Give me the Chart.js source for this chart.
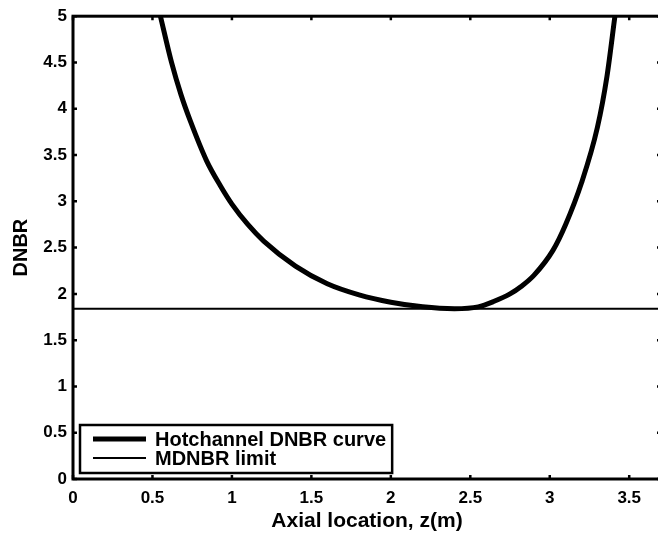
<!DOCTYPE html>
<html>
<head>
<meta charset="utf-8">
<script src="https://cdn.jsdelivr.net/npm/chart.js@4/dist/chart.umd.min.js"></script>
<style>
  html, body { margin: 0; padding: 0; background: #fff; overflow: hidden; }
  #wrap { width: 662px; height: 540px; }
</style>
</head>
<body>
<div id="wrap"><canvas id="chart" width="662" height="540"></canvas></div>
<script>
// values
const axialZ = [0.55, 0.62, 0.68, 0.74, 0.84, 0.93, 1.0, 1.1, 1.2, 1.4, 1.6, 1.8, 2.0, 2.2, 2.4, 2.55, 2.65, 2.75, 2.82, 2.9, 3.02, 3.1, 3.2, 3.3, 3.36, 3.41];
const dnbrHot = [5.0, 4.5, 4.15, 3.86, 3.44, 3.16, 2.97, 2.75, 2.57, 2.3, 2.11, 1.99, 1.91, 1.86, 1.84, 1.86, 1.92, 2.0, 2.08, 2.2, 2.47, 2.75, 3.2, 3.8, 4.35, 5.0];
const mdnbrZ = [0, 3.7];
const mdnbrLimit = [1.84, 1.84];
const seriesLabels = ['Hotchannel DNBR curve', 'MDNBR limit'];
const xTicks = [0, 0.5, 1, 1.5, 2, 2.5, 3, 3.5];
const yTicks = [0, 0.5, 1, 1.5, 2, 2.5, 3, 3.5, 4, 4.5, 5];

const fontFamily = '"Liberation Sans", Arial, Helvetica, sans-serif';

// matlab style box, inward ticks and boxed legend
const matlabAxes = {
    id: 'matlabAxes',
    afterDatasetsDraw(chart) {
        const { ctx, chartArea: a, scales } = chart;
        ctx.save();
        ctx.strokeStyle = '#000';
        ctx.lineWidth = 2.5;
        const tl = 4;
        xTicks.forEach(v => {
            const px = scales.x.getPixelForValue(v);
            ctx.beginPath();
            ctx.moveTo(px, a.bottom); ctx.lineTo(px, a.bottom - tl);
            ctx.moveTo(px, a.top); ctx.lineTo(px, a.top + tl);
            ctx.stroke();
        });
        yTicks.forEach(v => {
            const py = scales.y.getPixelForValue(v);
            ctx.beginPath();
            ctx.moveTo(a.left, py); ctx.lineTo(a.left + tl, py);
            ctx.moveTo(a.right, py); ctx.lineTo(a.right - tl, py);
            ctx.stroke();
        });
        ctx.lineWidth = 3;
        ctx.strokeRect(a.left, a.top, a.right - a.left, a.bottom - a.top);

        // legend
        const ds = chart.data.datasets;
        ctx.font = 'bold 20px ' + fontFamily;
        const textW = Math.max(...ds.map(d => ctx.measureText(d.label).width));
        const left = a.left + 7;
        const bottom = a.bottom - 6;
        const boxH = 48;
        const top = bottom - boxH;
        const boxW = 75 + textW + 6;
        ctx.fillStyle = '#fff';
        ctx.fillRect(left, top, boxW, boxH);
        ctx.lineWidth = 2.5;
        ctx.strokeRect(left, top, boxW, boxH);
        ds.forEach((d, i) => {
            const y = top + 14 + i * 19;
            ctx.beginPath();
            ctx.lineWidth = d.borderWidth;
            ctx.moveTo(left + 13, y);
            ctx.lineTo(left + 66, y);
            ctx.stroke();
            ctx.fillStyle = '#000';
            ctx.textBaseline = 'middle';
            ctx.textAlign = 'left';
            ctx.fillText(d.label, left + 75, y + 1);
        });
        ctx.restore();
    }
};

const ctx = document.getElementById('chart').getContext('2d');
new Chart(ctx, {
    type: 'line',
    data: {
        datasets: [
            {
                label: seriesLabels[0],
                data: axialZ.map((z, i) => ({ x: z, y: dnbrHot[i] })),
                borderColor: '#000',
                borderWidth: 5,
                pointRadius: 0,
                cubicInterpolationMode: 'monotone',
                clip: 0
            },
            {
                label: seriesLabels[1],
                data: mdnbrZ.map((z, i) => ({ x: z, y: mdnbrLimit[i] })),
                borderColor: '#000',
                borderWidth: 2,
                pointRadius: 0,
                clip: 0
            }
        ]
    },
    options: {
        responsive: false,
        animation: false,
        devicePixelRatio: 1,
        layout: { padding: { top: 15, right: 1, left: 0, bottom: 0 } },
        plugins: {
            legend: { display: false },
            tooltip: { enabled: false }
        },
        scales: {
            x: {
                type: 'linear',
                min: 0,
                max: 3.7,
                afterBuildTicks: s => { s.ticks = xTicks.map(v => ({ value: v })); },
                afterFit: s => { s.height = 61; },
                grid: { display: false, drawTicks: false },
                border: { display: false },
                ticks: {
                    autoSkip: false,
                    maxRotation: 0,
                    padding: 9,
                    color: '#000',
                    font: { family: fontFamily, size: 17, weight: 'bold' },
                    callback: v => String(v)
                },
                title: {
                    display: true,
                    text: 'Axial location, z(m)',
                    color: '#000',
                    font: { family: fontFamily, size: 21, weight: 'bold' },
                    padding: { top: 0, bottom: 6 }
                }
            },
            y: {
                type: 'linear',
                min: 0,
                max: 5,
                afterBuildTicks: s => { s.ticks = yTicks.map(v => ({ value: v })); },
                afterFit: s => { s.width = 73; },
                grid: { display: false, drawTicks: false },
                border: { display: false },
                ticks: {
                    autoSkip: false,
                    padding: 6,
                    color: '#000',
                    font: { family: fontFamily, size: 17, weight: 'bold' },
                    callback: v => String(v)
                },
                title: {
                    display: true,
                    text: 'DNBR',
                    color: '#000',
                    font: { family: fontFamily, size: 20, weight: 'bold' },
                    padding: { top: 9, bottom: 0 }
                }
            }
        }
    },
    plugins: [matlabAxes]
});
</script>
</body>
</html>
